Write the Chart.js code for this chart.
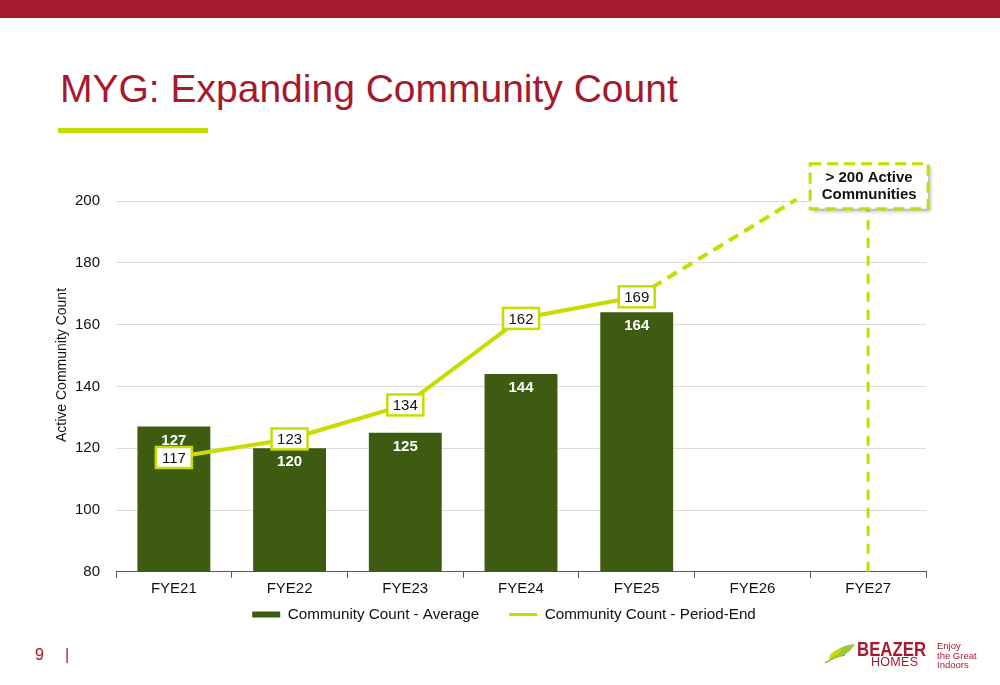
<!DOCTYPE html>
<html>
<head>
<meta charset="utf-8">
<script src="https://cdn.jsdelivr.net/npm/chart.js@4/dist/chart.umd.min.js"></script>
<style>
  html, body { margin: 0; padding: 0; }
  body { width: 1000px; height: 685px; position: relative; background: #fff; overflow: hidden;
         font-family: "Liberation Sans", Arial, sans-serif; }
  .band { position: absolute; left: 0; top: 0; width: 1000px; height: 18px; background: #A6192E; }
  .title { position: absolute; left: 60px; top: 69px; font-size: 39px; line-height: 39px; color: #A6192E; white-space: nowrap; }
  .uline { position: absolute; left: 58px; top: 128px; width: 150px; height: 5px; background: #C8DC00; }
  .pg { position: absolute; left: 35px; top: 646px; font-size: 16px; color: #A6192E; }
  .pgbar { position: absolute; left: 65px; top: 646px; font-size: 16px; color: #A6192E; }
  #wrap { position: absolute; left: 54px; top: 150px; width: 880px; height: 505px; }
  .logo-leaf { position: absolute; left: 823px; top: 641px; }
  .beazer { position: absolute; left: 857px; top: 637px; font-weight: bold; font-size: 21px; color: #A6192E;
            transform: scaleX(0.8); transform-origin: 0 0; white-space: nowrap; }
  .homes { position: absolute; left: 871px; top: 655px; font-size: 12.5px; color: #A6192E; letter-spacing: 0.3px; }
  .tag { position: absolute; left: 937px; top: 641px; font-size: 9.5px; line-height: 9.5px; color: #A6192E; }
</style>
</head>
<body>
<div class="band"></div>
<div class="title">MYG: Expanding Community Count</div>
<div class="uline"></div>
<div id="wrap"><canvas id="c"></canvas></div>
<div class="pg">9</div>
<div class="pgbar">|</div>
<svg class="logo-leaf" width="34" height="24" viewBox="0 0 34 24">
  <path d="M2 22 C8 18, 14 15, 22 14" stroke="#7DB32E" stroke-width="1.5" fill="none"/>
  <path d="M8 18 C10 8, 22 4, 32 3 C28 10, 22 16, 10 17 Z" fill="#9CC83C"/>
  <path d="M6 19 C6 12, 12 8, 20 8 C16 12, 12 16, 6 19 Z" fill="#C8DC00"/>
</svg>
<div class="beazer">BEAZER</div>
<div class="homes">HOMES</div>
<div class="tag">Enjoy<br>the Great<br>Indoors</div>
<script>
const categories = ['FYE21', 'FYE22', 'FYE23', 'FYE24', 'FYE25', 'FYE26', 'FYE27'];
const averageCounts = [127, 120, 125, 144, 164, null, null];
const periodEndCounts = [117, 123, 134, 162, 169, null, null];
const projectionLine = [{ x: 4, y: 169 }, { x: 5.38, y: 200.5 }];
const targetMarker = [{ x: 6, y: 80 }, { x: 6, y: 197.5 }];
const targetLabel = ['> 200 Active', 'Communities'];
const yAxisTitle = 'Active Community Count';
const yMin = 80, yMax = 200, yStep = 20;

const LIME = '#C8DC00';
const GREEN = '#3D5C11';
const FONT = '"Liberation Sans", Arial, sans-serif';

const legendShift = {
  id: 'legendShift',
  afterLayout(chart) {
    const lg = chart.legend;
    if (!lg) return;
    const dy = 23, dx = 14;
    lg.top -= dy;
    lg.bottom -= dy;
    lg.left += dx;
    lg.right += dx;
  }
};

const yTitlePlugin = {
  id: 'yTitle',
  afterDraw(chart) {
    const ctx = chart.ctx;
    const ca = chart.chartArea;
    ctx.save();
    ctx.translate(8, ca.top + 164);
    ctx.rotate(-Math.PI / 2);
    ctx.textAlign = 'center';
    ctx.textBaseline = 'middle';
    ctx.fillStyle = '#111';
    ctx.font = '14px ' + FONT;
    ctx.fillText(yAxisTitle, 0, 0);
    ctx.restore();
  }
};

const labelsPlugin = {
  id: 'valueLabels',
  afterDatasetsDraw(chart) {
    const ctx = chart.ctx;
    ctx.save();
    ctx.textAlign = 'center';
    ctx.textBaseline = 'middle';
    ctx.font = 'bold 15px ' + FONT;
    ctx.fillStyle = '#ffffff';
    chart.getDatasetMeta(0).data.forEach((el, i) => {
      const v = averageCounts[i];
      if (v == null) return;
      ctx.fillText(String(v), el.x, el.y + 14);
    });
    ctx.font = '15px ' + FONT;
    chart.getDatasetMeta(1).data.forEach((el, i) => {
      const v = periodEndCounts[i];
      if (v == null) return;
      const w = 36, h = 21;
      ctx.fillStyle = '#ffffff';
      ctx.fillRect(el.x - w / 2, el.y - h / 2, w, h);
      ctx.strokeStyle = LIME;
      ctx.lineWidth = 2.5;
      ctx.strokeRect(el.x - w / 2, el.y - h / 2, w, h);
      ctx.fillStyle = '#111';
      ctx.fillText(String(v), el.x, el.y + 1);
    });
    const xs = chart.scales.x, ys = chart.scales.y;
    const cx = xs.getPixelForValue(6);
    const bottom = ys.getPixelForValue(targetMarker[1].y);
    const bw = 118, bh = 45;
    const left = cx - bw / 2 + 1, top = bottom - bh;
    ctx.save();
    ctx.shadowColor = 'rgba(0,0,0,0.35)';
    ctx.shadowBlur = 4;
    ctx.shadowOffsetX = 2;
    ctx.shadowOffsetY = 2;
    ctx.fillStyle = '#ffffff';
    ctx.fillRect(left, top, bw, bh);
    ctx.restore();
    ctx.setLineDash([11, 6]);
    ctx.strokeStyle = LIME;
    ctx.lineWidth = 3;
    ctx.strokeRect(left, top, bw, bh);
    ctx.setLineDash([]);
    ctx.fillStyle = '#111';
    ctx.font = 'bold 15px ' + FONT;
    ctx.fillText(targetLabel[0], left + bw / 2, top + 14);
    ctx.fillText(targetLabel[1], left + bw / 2, top + 31);
    ctx.restore();
  }
};

const chart = new Chart(document.getElementById('c'), {
  type: 'bar',
  data: {
    labels: categories,
    datasets: [
      {
        type: 'bar',
        label: 'Community Count - Average',
        data: averageCounts,
        backgroundColor: GREEN,
        borderWidth: 0,
        barPercentage: 0.63,
        categoryPercentage: 1,
        grouped: false,
        order: 2,
        pointStyle: 'rect'
      },
      {
        type: 'line',
        label: 'Community Count - Period-End',
        data: periodEndCounts,
        borderColor: LIME,
        backgroundColor: LIME,
        borderWidth: 4,
        pointRadius: 0,
        tension: 0,
        order: 1,
        pointStyle: 'line'
      },
      {
        type: 'line',
        label: 'projection',
        data: projectionLine,
        xAxisID: 'x2',
        borderColor: LIME,
        borderWidth: 4,
        borderDash: [11, 7],
        pointRadius: 0,
        clip: false,
        order: 0
      },
      {
        type: 'line',
        label: 'target',
        data: targetMarker,
        xAxisID: 'x2',
        borderColor: LIME,
        borderWidth: 3,
        borderDash: [10, 8],
        pointRadius: 0,
        clip: false,
        order: 0
      }
    ]
  },
  options: {
    responsive: true,
    maintainAspectRatio: false,
    animation: false,
    layout: { padding: { top: 51, right: 8, left: 0, bottom: 0 } },
    plugins: {
      tooltip: { enabled: false },
      legend: {
        position: 'bottom',
        labels: {
          usePointStyle: true,
          pointStyleWidth: 28,
          boxHeight: 6,
          padding: 30,
          color: '#111',
          font: { family: FONT, size: 15.2 },
          filter: (item) => item.datasetIndex < 2,
          sort: (a, b) => a.datasetIndex - b.datasetIndex,
          generateLabels: (chart) => {
            const items = Chart.defaults.plugins.legend.labels.generateLabels(chart);
            items.forEach(it => { if (it.datasetIndex === 1) it.lineWidth = 3; if (it.datasetIndex === 0) it.lineWidth = 0; });
            return items;
          }
        }
      }
    },
    scales: {
      x: {
        type: 'category',
        offset: true,
        grid: { offset: true, drawOnChartArea: false, drawTicks: true, tickLength: 6, color: '#595959', lineWidth: 1 },
        border: { display: true, color: '#595959', width: 1 },
        ticks: { color: '#111', font: { family: FONT, size: 15 }, padding: 2, maxRotation: 0 }
      },
      x2: {
        type: 'linear',
        display: false,
        offset: false,
        min: -0.5,
        max: 6.5
      },
      y: {
        min: yMin,
        max: yMax,
        afterFit: (s) => { s.width = 62; },
        ticks: { stepSize: yStep, color: '#111', font: { family: FONT, size: 15 }, padding: 16 },
        grid: { color: '#dcdcdc', lineWidth: 1, drawTicks: false },
        border: { display: false },
        title: { display: false }
      }
    }
  },
  plugins: [labelsPlugin, legendShift, yTitlePlugin]
});
</script>
</body>
</html>
